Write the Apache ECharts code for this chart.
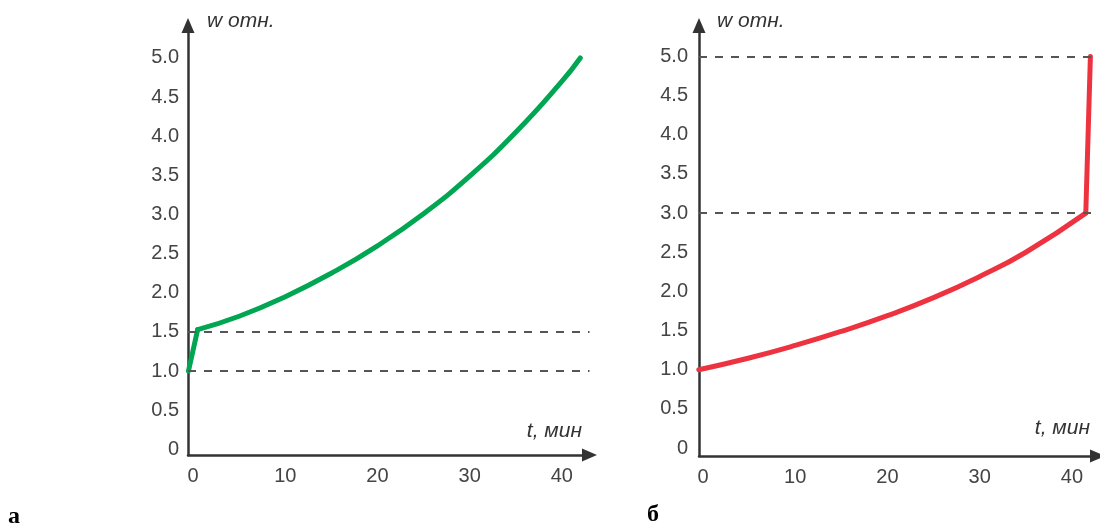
<!DOCTYPE html>
<html>
<head>
<meta charset="utf-8">
<script src="https://cdn.jsdelivr.net/npm/echarts@6/dist/echarts.min.js"></script>
<style>
  html, body { margin: 0; padding: 0; background: #fff; }
  #chart { width: 1100px; height: 527px; }
</style>
</head>
<body>
<div id="chart"></div>
<script>
// panel а: fast rise to 1.5, then growth curve
const tGreenJump = [-0.5, 0.5]
const wGreenJump = [1.0, 1.53]
const tGreen = [0.5, 5, 10, 15, 20, 25, 30, 35, 40, 42]
const wGreen = [1.53, 1.70, 1.95, 2.25, 2.60, 3.01, 3.49, 4.05, 4.70, 5.0]
const levelsLeft = [1.0, 1.5]

// panel б: slow growth to 3.0, then jump to 5.0
const tRed = [-0.45, 5, 10, 15, 20, 25, 30, 35, 41.5]
const wRed = [1.0, 1.15, 1.31, 1.49, 1.69, 1.92, 2.19, 2.50, 3.0]
const tRedJump = [41.5, 42]
const wRedJump = [3.0, 5.0]
const levelsRight = [3.0, 5.0]

const xTicks = [0, 10, 20, 30, 40]
const yTicks = [0, 0.5, 1.0, 1.5, 2.0, 2.5, 3.0, 3.5, 4.0, 4.5, 5.0]

const pairs = (xs, ys) => xs.map((x, i) => [x, ys[i]])

const chart = echarts.init(document.getElementById('chart'))

const labelFont = { color: '#444', fontSize: 20, fontFamily: 'Liberation Sans, Arial, sans-serif' }
const axisLine = {
  show: true,
  onZero: false,
  symbol: ['none', 'triangle'],
  symbolSize: [13, 15],
  lineStyle: { color: '#333', width: 2.5 },
}

function xAxis(gridIndex, min, max) {
  return {
    type: 'value', gridIndex, min, max,
    axisLine,
    axisTick: { show: false },
    splitLine: { show: false },
    axisLabel: { ...labelFont, margin: 11, customValues: xTicks },
  }
}

function yAxis(gridIndex, min, max, margin) {
  return {
    type: 'value', gridIndex, min, max,
    axisLine,
    axisTick: { show: false },
    splitLine: { show: false },
    axisLabel: {
      ...labelFont, margin, customValues: yTicks,
      formatter: v => (v === 0 ? '0' : v.toFixed(1)),
    },
  }
}

function dashed(levels) {
  return {
    silent: true,
    symbol: 'none',
    label: { show: false },
    lineStyle: { color: '#555', width: 2, type: [8, 8] },
    data: levels.map(v => ({ yAxis: v })),
  }
}

function line(idx, data, color, smooth, extra) {
  return Object.assign({
    type: 'line', xAxisIndex: idx, yAxisIndex: idx,
    data, smooth, symbol: 'none', z: 3,
    lineStyle: { color, width: 5, cap: 'round', join: 'round' },
  }, extra || {})
}

const green = '#00a651'
const red = '#ee3340'
const nameFont = { fill: '#333', fontSize: 21, fontStyle: 'italic', fontFamily: 'Liberation Sans, Arial, sans-serif' }
const letterFont = { fill: '#000', fontSize: 24, fontWeight: 'bold', fontFamily: 'Liberation Serif, Times New Roman, serif' }

chart.setOption({
  animation: false,
  grid: [
    { left: 188, top: 25.5, width: 401.5, height: 429.5 },
    { left: 699, top: 25.5, width: 398.5, height: 430.5 },
  ],
  xAxis: [xAxis(0, -0.55, 43.0), xAxis(1, -0.43, 42.77)],
  yAxis: [yAxis(0, -0.073, 5.415, 9), yAxis(1, -0.102, 5.396, 11)],
  series: [
    line(0, pairs(tGreenJump, wGreenJump), green, false, { markLine: dashed(levelsLeft), z: 4 }),
    line(0, pairs(tGreen, wGreen), green, 0.5),
    line(1, pairs(tRed, wRed), red, 0.5, { markLine: dashed(levelsRight) }),
    line(1, pairs(tRedJump, wRedJump), red, false),
  ],
  graphic: [
    { type: 'text', left: 207, top: 11, style: { ...nameFont, text: 'w отн.' } },
    { type: 'text', left: 717, top: 11, style: { ...nameFont, text: 'w отн.' } },
    { type: 'text', right: 1100 - 582, top: 421, style: { ...nameFont, text: 't, мин' } },
    { type: 'text', right: 1100 - 1090, top: 418, style: { ...nameFont, text: 't, мин' } },
    { type: 'text', left: 8, top: 505, style: { ...letterFont, text: 'а' } },
    { type: 'text', left: 647, top: 503, style: { ...letterFont, text: 'б' } },
  ],
})
</script>
</body>
</html>
